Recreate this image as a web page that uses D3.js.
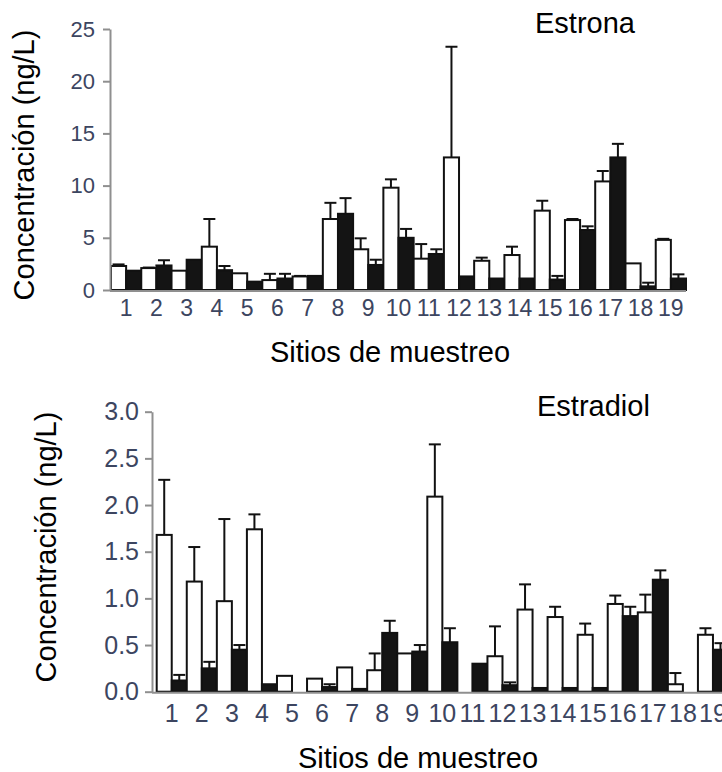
<!DOCTYPE html>
<html>
<head>
<meta charset="utf-8">
<script src="https://cdn.jsdelivr.net/npm/d3@7"></script>
<style>
  body { margin: 0; background: #fff; }
  svg { display: block; }
</style>
</head>
<body>
<div id="chart"></div>
<script>
// sampling sites
const sites = d3.range(1, 20).map(String)

// Estrona (ng/L): white bars, black bars, and upper error (SD)
const estronaWhite = [2.3, 2.1, 1.85, 4.15, 1.6, 0.95, 1.3, 6.8, 3.9, 9.8, 3.0, 12.7, 2.8, 3.35, 7.6, 6.7, 10.4, 2.55, 4.8]
const estronaWhiteErr = [0.15, 0.05, 0, 2.65, 0, 0.6, 0.05, 1.55, 1.05, 0.8, 1.4, 10.6, 0.3, 0.8, 0.95, 0.1, 1.0, 0, 0.1]
const estronaBlack = [1.85, 2.35, 2.9, 1.9, 0.8, 1.1, 1.35, 7.3, 2.4, 5.0, 3.45, 1.3, 1.1, 1.1, 1.0, 5.75, 12.7, 0.35, 1.1]
const estronaBlackErr = [0, 0.5, 0, 0.4, 0, 0.45, 0, 1.5, 0.5, 0.85, 0.45, 0, 0, 0, 0.35, 0.35, 1.3, 0.35, 0.4]
const estronaTicks = [0, 5, 10, 15, 20, 25]

// Estradiol (ng/L)
const estradiolWhite = [1.68, 1.18, 0.97, 1.74, 0.17, 0.14, 0.26, 0.23, 0.41, 2.09, 0, 0.38, 0.88, 0.8, 0.61, 0.94, 0.85, 0.08, 0.61]
const estradiolWhiteErr = [0.59, 0.37, 0.88, 0.16, 0, 0, 0, 0.18, 0, 0.56, 0, 0.32, 0.27, 0.11, 0.12, 0.09, 0.19, 0.12, 0.07]
const estradiolBlack = [0.12, 0.25, 0.45, 0.08, 0, 0.05, 0.03, 0.63, 0.43, 0.53, 0.3, 0.07, 0.04, 0.04, 0.04, 0.81, 1.2, 0, 0.45]
const estradiolBlackErr = [0.06, 0.07, 0.05, 0, 0, 0.03, 0, 0.13, 0.07, 0.15, 0, 0.03, 0, 0, 0, 0.1, 0.1, 0, 0.07]
const estradiolTicks = [0, 0.5, 1.0, 1.5, 2.0, 2.5, 3.0]

const titleFont = '"Liberation Sans", Arial, sans-serif'
const tickColor = '#3c4560'
const axisColor = '#8f8f8f'

const svg = d3
  .select('#chart')
  .append('svg')
  .attr('width', 722)
  .attr('height', 772)

function renderPanel({
  white,
  whiteErr,
  black,
  blackErr,
  ticks,
  tickFormat,
  axisX,
  bandRange,
  yRange,
  yTickSize,
  xTickSize,
  xTickPadding,
  yTickPadding,
  name,
  nameX,
  nameY,
  yTitleX,
  yTitleY,
  xTitleX,
  xTitleY,
}) {
  const g = svg.append('g')
  const yScale = d3
    .scaleLinear()
    .domain([0, d3.max(ticks)])
    .range(yRange)
  const xScale = d3.scaleBand().domain(sites).range(bandRange).padding(0)
  const inner = d3
    .scaleBand()
    .domain(['w', 'b'])
    .range([0, xScale.bandwidth()])
    .padding(0)

  const rows = sites.map((s, i) => [
    { site: s, key: 'w', v: white[i], e: whiteErr[i], fill: '#fff' },
    { site: s, key: 'b', v: black[i], e: blackErr[i], fill: '#141414' },
  ]).flat()

  const barX = d => xScale(d.site) + inner(d.key)
  const bw = inner.bandwidth()

  // error bars (upper whisker only)
  const errs = g
    .append('g')
    .selectAll('g')
    .data(rows.filter(d => d.e > 0))
    .join('g')
    .attr('stroke', '#111')
    .attr('stroke-width', 2)
  errs
    .append('line')
    .attr('x1', d => barX(d) + bw / 2)
    .attr('x2', d => barX(d) + bw / 2)
    .attr('y1', d => yScale(d.v))
    .attr('y2', d => yScale(d.v + d.e))
  errs
    .append('line')
    .attr('x1', d => barX(d) + bw / 2 - 6)
    .attr('x2', d => barX(d) + bw / 2 + 6)
    .attr('y1', d => yScale(d.v + d.e))
    .attr('y2', d => yScale(d.v + d.e))

  g.append('g')
    .selectAll('rect')
    .data(rows.filter(d => d.v > 0))
    .join('rect')
    .attr('x', barX)
    .attr('width', bw)
    .attr('y', d => yScale(d.v))
    .attr('height', d => yScale(0) - yScale(d.v))
    .attr('fill', d => d.fill)
    .attr('stroke', '#111')
    .attr('stroke-width', 2)

  // baseline
  g.append('line')
    .attr('x1', axisX)
    .attr('x2', Math.min(bandRange[1], 722))
    .attr('y1', yScale(0) + 1)
    .attr('y2', yScale(0) + 1)
    .attr('stroke', axisColor)
    .attr('stroke-width', 2)

  // y axis
  g.append('g')
    .attr('transform', `translate(${axisX}, 0)`)
    .call(
      d3
        .axisLeft(yScale)
        .tickValues(ticks)
        .tickFormat(tickFormat)
        .tickSize(7)
        .tickSizeOuter(0)
        .tickPadding(yTickPadding),
    )
    .call(a => {
      a.select('.domain').attr('stroke', axisColor).attr('stroke-width', 2)
      a.selectAll('.tick line').attr('stroke', axisColor).attr('stroke-width', 2)
      a.selectAll('.tick text')
        .attr('fill', tickColor)
        .style('font', `${yTickSize}px ${titleFont}`)
    })

  // x axis labels
  g.append('g')
    .attr('transform', `translate(0, ${yScale(0)})`)
    .call(d3.axisBottom(xScale).tickSize(0).tickPadding(xTickPadding))
    .call(a => {
      a.select('.domain').remove()
      a.selectAll('.tick text')
        .attr('fill', tickColor)
        .style('font', `${xTickSize}px ${titleFont}`)
    })

  g.append('text')
    .attr('x', nameX)
    .attr('y', nameY)
    .style('font', `29px ${titleFont}`)
    .attr('fill', '#000')
    .text(name)

  g.append('text')
    .attr('transform', `translate(${yTitleX}, ${yTitleY}) rotate(-90)`)
    .attr('text-anchor', 'middle')
    .style('font', `29px ${titleFont}`)
    .attr('fill', '#000')
    .text('Concentración (ng/L)')

  g.append('text')
    .attr('x', xTitleX)
    .attr('y', xTitleY)
    .attr('text-anchor', 'middle')
    .style('font', `29px ${titleFont}`)
    .attr('fill', '#000')
    .text('Sitios de muestreo')
}

renderPanel({
  white: estronaWhite,
  whiteErr: estronaWhiteErr,
  black: estronaBlack,
  blackErr: estronaBlackErr,
  ticks: estronaTicks,
  tickFormat: d3.format('d'),
  axisX: 110,
  bandRange: [111, 686],
  yRange: [290, 29],
  yTickSize: 22,
  xTickSize: 23,
  xTickPadding: 10,
  yTickPadding: 8,
  name: 'Estrona',
  nameX: 535,
  nameY: 33,
  yTitleX: 34,
  yTitleY: 165,
  xTitleX: 390,
  xTitleY: 362,
})

renderPanel({
  white: estradiolWhite,
  whiteErr: estradiolWhiteErr,
  black: estradiolBlack,
  blackErr: estradiolBlackErr,
  ticks: estradiolTicks,
  tickFormat: d3.format('.1f'),
  axisX: 152,
  bandRange: [156.7, 728],
  yRange: [691.7, 411.7],
  yTickSize: 25,
  xTickSize: 25,
  xTickPadding: 13,
  yTickPadding: 6,
  name: 'Estradiol',
  nameX: 537,
  nameY: 416,
  yTitleX: 56,
  yTitleY: 547,
  xTitleX: 418,
  xTitleY: 768,
})
</script>
</body>
</html>
